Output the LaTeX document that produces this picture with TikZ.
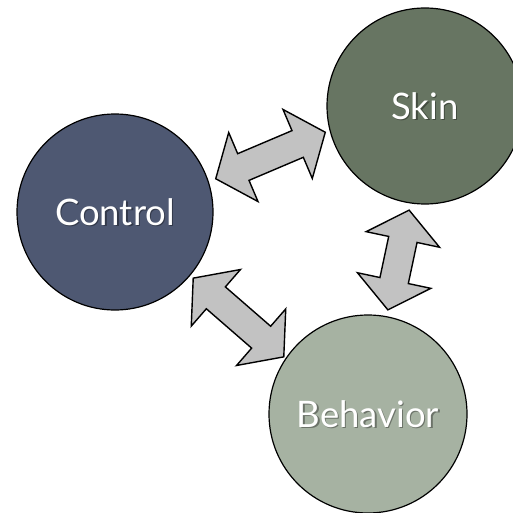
\documentclass[tikz,border=0pt]{standalone}
\usepackage{fontspec}
\setmainfont{Lato}
\definecolor{controlfill}{HTML}{4E5872}
\definecolor{skinfill}{HTML}{677562}
\definecolor{behaviorfill}{HTML}{A6B2A2}
\definecolor{arrowfill}{HTML}{C2C2C2}
\tikzset{
  topic/.style={circle, draw=black, line width=1.2pt, inner sep=0pt, minimum size=197pt},
  label text/.style={text=white, font=\fontsize{36.5}{42}\selectfont},
  shadow text/.style={text=black, opacity=0.35, font=\fontsize{36.5}{42}\selectfont},
  blockarrow/.style={draw=black, fill=arrowfill, line width=1.4pt, line join=miter}
}
% block double arrow centred at (#1,#2), rotated by #3 degrees, total length #4
\newcommand\dblblock[4]{%
  \begin{scope}[shift={(#1,#2)}, rotate=#3]
    \pgfmathsetmacro\hl{#4/2}
    \pgfmathsetmacro\hb{#4/2-30}
    \draw[blockarrow] (-\hl,0) -- (-\hb,37.5) -- (-\hb,14.5) -- (\hb,14.5)
      -- (\hb,37.5) -- (\hl,0) -- (\hb,-37.5) -- (\hb,-14.5)
      -- (-\hb,-14.5) -- (-\hb,-37.5) -- cycle;
  \end{scope}}
\begin{document}
\begin{tikzpicture}[x=1pt, y=-1pt]
  \useasboundingbox (0,0) rectangle (512,513);
  % topics
  \node[topic, fill=controlfill, minimum size=196pt] (control) at (115,212) {};
  \node[topic, fill=skinfill, minimum size=196pt] (skin) at (425,106) {};
  \node[topic, fill=behaviorfill, minimum size=198pt] (behavior) at (368,414) {};
  % labels with a soft shadow
  \node[shadow text] at ([shift={(1.2,1.5)}]control.center) {Control};
  \node[label text] (controltext) at (control.center) {Control};
  \node[shadow text] at ([shift={(1.2,1.5)}]skin.center) {Skin};
  \node[label text] (skintext) at (skin.center) {Skin};
  \node[shadow text] at ([shift={(1.2,1.5)}]behavior.center) {Behavior};
  \node[label text] (behaviortext) at (behavior.center) {Behavior};
  % relations
  \dblblock{270.5}{155.5}{23}{119}
  \dblblock{398.5}{260}{78}{102}
  \dblblock{238.5}{317.5}{-41}{120}
\end{tikzpicture}
\end{document}
